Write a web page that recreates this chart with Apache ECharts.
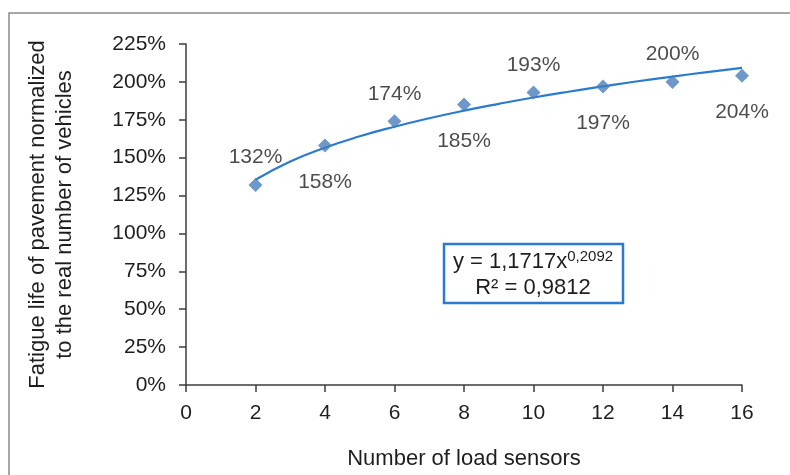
<!DOCTYPE html>
<html>
<head>
<meta charset="utf-8">
<script src="https://cdn.jsdelivr.net/npm/echarts@6/dist/echarts.min.js"></script>
<style>
  html, body { margin: 0; padding: 0; background: #fff; }
  #main { width: 790px; height: 475px; }
</style>
</head>
<body>
<div id="main"></div>
<script>
// measured points
const sensors = [2, 4, 6, 8, 10, 12, 14, 16];
const fatigue = [132, 158, 174, 185, 193, 197, 200, 204];

// power trend line (x = 2..16)
const trendX = [2, 3, 4, 5, 6, 7, 8, 9, 10, 11, 12, 13, 14, 15, 16];
const trendY = [135.4, 147.4, 156.6, 164.1, 170.4, 176.0, 181.0, 185.5, 189.7, 193.5, 197.0, 200.4, 203.5, 206.5, 209.3];

const yTicks = [0, 225, 25];
const xTicks = [0, 16, 2];

const eqLine1 = 'y = 1,1717x';
const eqExp = '0,2092';
const eqLine2 = 'R² = 0,9812';

const font = '"Liberation Sans", Arial, sans-serif';
const textColor = '#1e1e1e';
const axisColor = '#3c3c3c';

const chart = echarts.init(document.getElementById('main'));

// labels alternate above / below the markers
const points = sensors.map((x, i) => ({
  value: [x, fatigue[i]],
  label: {
    position: i % 2 === 0 ? 'top' : 'bottom',
    distance: i % 2 === 0 ? 10 : 19
  }
}));

const option = {
  animation: false,
  backgroundColor: '#fff',
  grid: { left: 186, right: 48, top: 44, bottom: 89 },
  xAxis: {
    type: 'value',
    min: xTicks[0],
    max: xTicks[1],
    interval: xTicks[2],
    name: 'Number of load sensors',
    nameLocation: 'middle',
    nameGap: 63,
    nameTextStyle: { fontFamily: font, fontSize: 22, color: textColor },
    splitLine: { show: false },
    axisLine: { lineStyle: { color: axisColor, width: 1.5 } },
    axisTick: { length: 7, lineStyle: { color: axisColor, width: 1.5 } },
    axisLabel: { margin: 18, fontFamily: font, fontSize: 21, color: textColor }
  },
  yAxis: {
    type: 'value',
    min: yTicks[0],
    max: yTicks[1],
    interval: yTicks[2],
    name: 'Fatigue life of pavement normalized\nto the real number of vehicles',
    nameLocation: 'middle',
    nameGap: 108,
    nameTextStyle: { fontFamily: font, fontSize: 22, lineHeight: 27, color: textColor },
    splitLine: { show: false },
    axisLine: { show: true, lineStyle: { color: axisColor, width: 1.5 } },
    axisTick: { show: true, length: 7, lineStyle: { color: axisColor, width: 1.5 } },
    axisLabel: { margin: 20, fontFamily: font, fontSize: 21, color: textColor, formatter: '{value}%' }
  },
  series: [
    {
      type: 'line',
      data: trendX.map((x, i) => [x, trendY[i]]),
      smooth: true,
      showSymbol: false,
      lineStyle: { color: '#2a7bd0', width: 2.2 },
      z: 2
    },
    {
      type: 'scatter',
      data: points,
      symbol: 'diamond',
      symbolSize: 14,
      itemStyle: { color: '#4a7ebb' },
      label: {
        show: true,
        fontFamily: font,
        fontSize: 21,
        color: textColor,
        formatter: p => p.value[1] + '%'
      },
      z: 3
    }
  ],
  graphic: [
    {
      type: 'rect',
      shape: { x: 9, y: 13, width: 800, height: 500 },
      style: { fill: 'none', stroke: '#8a8a8a', lineWidth: 1.5 },
      silent: true,
      z: -1
    },
    {
      type: 'rect',
      shape: { x: 444, y: 244, width: 179, height: 59 },
      style: { fill: '#fff', stroke: '#2a7bd0', lineWidth: 2.5 },
      z: 10
    },
    {
      type: 'text',
      x: 533,
      y: 275,
      z: 11,
      style: {
        text: '{a|' + eqLine1 + '}{s|' + eqExp + '}\n{a|' + eqLine2 + '}',
        align: 'center',
        verticalAlign: 'middle',
        fill: textColor,
        rich: {
          a: { fontFamily: font, fontSize: 22, lineHeight: 26, fill: textColor },
          s: { fontFamily: font, fontSize: 15, lineHeight: 26, verticalAlign: 'top', fill: textColor }
        }
      }
    }
  ]
};

chart.setOption(option);
</script>
</body>
</html>
